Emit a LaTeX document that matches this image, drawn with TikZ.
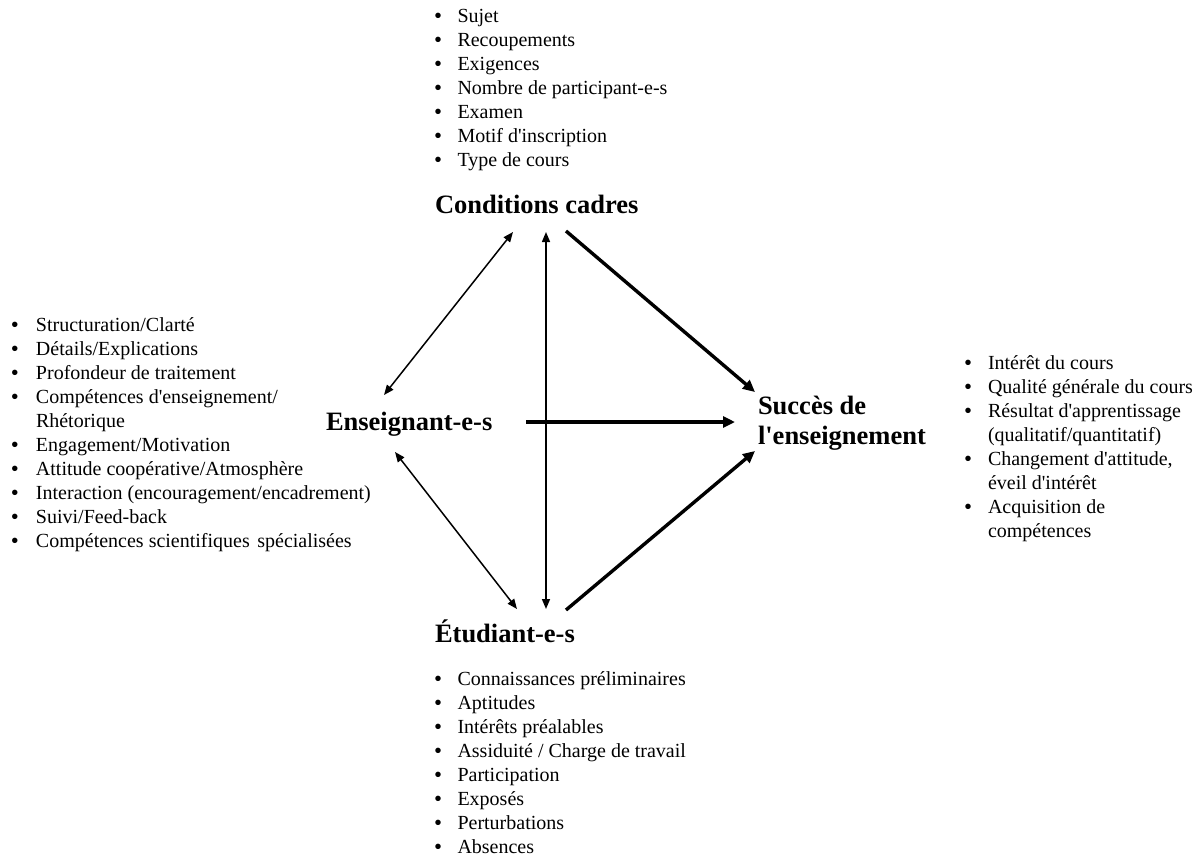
\documentclass[tikz,border=0pt]{standalone}
\usepackage{fontspec}
\setmainfont{Liberation Serif}[Ligatures=TeXOff]
\newfontfamily\bulletfont{Liberation Sans}
\usetikzlibrary{arrows.meta,calc}
\newlength\bulw
\newcommand\bu{\makebox[\bulw][l]{\bulletfont\textbullet}}
\begin{document}
\begin{tikzpicture}[x=1pt,y=-1pt,
  every node/.style={inner sep=0pt,outer sep=0pt,anchor=base west},
  concept/.style={font=\fontsize{26.5}{30}\selectfont\bfseries},
  itemlist/.style={font=\fontsize{20}{24}\selectfont},
  link/.style={line width=1.5pt,{Triangle[length=10pt,width=8pt]}-{Triangle[length=10pt,width=8pt]}},
  effect/.style={line width=3.4pt,-{Triangle[length=12pt,width=11pt]}}]
\useasboundingbox (0,0) rectangle (1202,855);

% the four factors
\node[concept] (cc) at (435,213) {Conditions cadres};
\node[concept] (ens) at (326,430) {Enseignant-e-s};
\node[concept] (etu) at (435,642) {Étudiant-e-s};
\node[concept] (succ) at (758,414)
  {\begin{tabular}[t]{@{}l@{}}Succès de\\ l'enseignement\end{tabular}};

% lists of aspects
\node[itemlist] (cclist) at (434.5,22) {\setlength\bulw{23pt}%
  \begin{tabular}[t]{@{}l@{}l@{}}
  \bu & Sujet\\
  \bu & Recoupements\\
  \bu & Exigences\\
  \bu & Nombre de participant-e-s\\
  \bu & Examen\\
  \bu & Motif d'inscription\\
  \bu & Type de cours
  \end{tabular}};

\node[itemlist] (enslist) at (11.5,331) {\setlength\bulw{24.5pt}%
  \begin{tabular}[t]{@{}l@{}l@{}}
  \bu & Structuration/Clarté\\
  \bu & Détails/Explications\\
  \bu & Profondeur de traitement\\
  \bu & Compétences d'enseignement/\\
      & Rhétorique\\
  \bu & Engagement/Motivation\\
  \bu & Attitude coopérative/Atmosphère\\
  \bu & Interaction (encouragement/encadrement)\\
  \bu & Suivi/Feed-back\\
  \bu & Compétences scientifiques\hspace{2.5pt} spécialisées
  \end{tabular}};

\node[itemlist] (succlist) at (964.5,369) {\setlength\bulw{23.5pt}%
  \begin{tabular}[t]{@{}l@{}l@{}}
  \bu & Intérêt du cours\\
  \bu & Qualité générale du cours\\
  \bu & Résultat d'apprentissage\\
      & (qualitatif/quantitatif)\\
  \bu & Changement d'attitude,\\
      & éveil d'intérêt\\
  \bu & Acquisition de\\
      & compétences
  \end{tabular}};

\node[itemlist] (etulist) at (434.5,685) {\setlength\bulw{23pt}%
  \begin{tabular}[t]{@{}l@{}l@{}}
  \bu & Connaissances préliminaires\\
  \bu & Aptitudes\\
  \bu & Intérêts préalables\\
  \bu & Assiduité / Charge de travail\\
  \bu & Participation\\
  \bu & Exposés\\
  \bu & Perturbations\\
  \bu & Absences
  \end{tabular}};

% mutual relations (thin, double-headed)
\draw[link] ($(cc.base west)+(78,19)$) -- ($(ens.base west)+(58,-35)$);
\draw[link] ($(cc.base west)+(111,19)$) -- ($(etu.base west)+(111,-33)$);
\draw[link] ($(ens.base west)+(69,22)$) -- ($(etu.base west)+(82,-33)$);

% effects on teaching success (thick)
\draw[effect] ($(cc.base west)+(131,18)$) -- ($(succ.base west)+(-3,-22)$);
\draw[effect] ($(ens.base west)+(200,-8)$) -- ($(succ.base west)+(-23,8)$);
\draw[effect] ($(etu.base west)+(131,-32)$) -- ($(succ.base west)+(-3,37)$);
\end{tikzpicture}
\end{document}
